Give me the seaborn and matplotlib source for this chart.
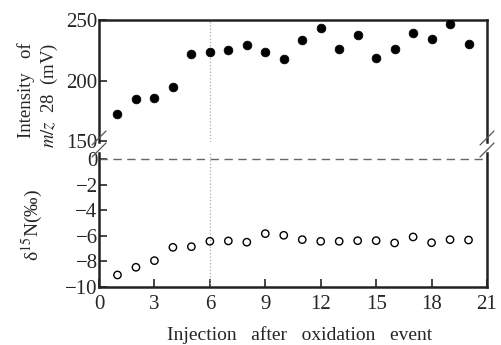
import seaborn as sns
import matplotlib.pyplot as plt
import pandas as pd

# Data
injection = list(range(1, 21))
intensity = [172.1, 184.7, 185.8, 194.6, 221.6, 223.3, 225.5, 229.3, 223.3, 217.5,
             233.2, 243.1, 226.3, 237.3, 218.3, 226.3, 239.3, 234.3, 246.4, 230.4]
delta15n = [-9.06, -8.46, -7.94, -6.90, -6.85, -6.43, -6.40, -6.50, -5.83, -5.96,
            -6.30, -6.43, -6.43, -6.38, -6.38, -6.56, -6.09, -6.54, -6.30, -6.33]
x_ticks = [0, 3, 6, 9, 12, 15, 18, 21]
top_ticks = [150, 200, 250]
bottom_ticks = [0, -2, -4, -6, -8, -10]

df = pd.DataFrame({"injection": injection, "intensity": intensity, "d15n": delta15n})

sns.set_style("ticks")
plt.rcParams["font.family"] = ["Liberation Serif", "DejaVu Serif"]
plt.rcParams["mathtext.fontset"] = "stix"
plt.rcParams["axes.unicode_minus"] = True

W, H = 502, 345
fig = plt.figure(figsize=(W / 100, H / 100), dpi=100)
L, R = 99, 487
ax_top = fig.add_axes([L / W, (H - 142) / H, (R - L) / W, (142 - 20) / H])
ax_bot = fig.add_axes([L / W, (H - 287) / H, (R - L) / W, (287 - 153) / H])

sns.scatterplot(data=df, x="injection", y="intensity", ax=ax_top, color="black",
                s=40, edgecolor="black", linewidth=0.5, zorder=3)
sns.scatterplot(data=df, x="injection", y="d15n", ax=ax_bot, facecolor="none",
                edgecolor="black", s=28, linewidth=1.0, zorder=3)

for ax in (ax_top, ax_bot):
    ax.set_xlim(0, 21)
    ax.axvline(6, color="#aaaaaa", linestyle=":", linewidth=0.9, zorder=1)
    ax.tick_params(direction="in", length=6, width=1.2, labelsize=15, pad=1)
    for s in ax.spines.values():
        s.set_linewidth(1.8)
        s.set_color("#222222")
    ax.set_xlabel("")
    ax.set_ylabel("")

ax_top.set_ylim(149.2, 250)
ax_top.set_yticks(top_ticks)
ax_top.set_xticks([])
ax_top.spines["bottom"].set_visible(False)

ax_bot.set_ylim(-10, 0.47)
ax_bot.set_yticks(bottom_ticks)
ax_bot.set_xticks(x_ticks)
ax_bot.tick_params(axis="x", pad=6)
ax_bot.spines["top"].set_visible(False)
ax_bot.axhline(0, color="#666666", linestyle=(0, (6, 4)), linewidth=1.0, zorder=1)

# break marks
for xf in (L - 7, R - 7):
    for yc in (141, 153):
        x0, y0 = xf / W, (H - yc - 4) / H
        fig.add_artist(plt.Line2D([x0, x0 + 14 / W], [y0, y0 + 14 / H],
                                  color="#555555", linewidth=0.9))

fig.text(26 / W, (H - 90) / H, "Intensity   of", rotation=90, ha="center",
         va="center", fontsize=13.5)
fig.text(49 / W, (H - 95) / H, r"$m/z$  28  (mV)", rotation=90, ha="center",
         va="center", fontsize=13.5)
fig.text(32 / W, (H - 225) / H, "δ$^{15}$N(‰)", rotation=90, ha="center",
         va="center", fontsize=14)
fig.text(300 / W, (H - 335) / H, "Injection   after   oxidation   event",
         ha="center", va="center", fontsize=14)

fig.savefig("out.png", dpi=100)
